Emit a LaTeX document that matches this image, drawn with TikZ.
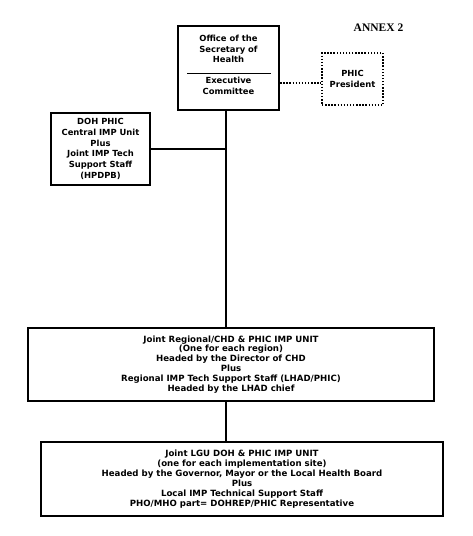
\documentclass[tikz,border=0pt]{standalone}
\usepackage{fontspec}
\setmainfont{DejaVu Sans}
\newfontfamily\annexfont{Liberation Serif}
\begin{document}
\begin{tikzpicture}[x=1pt,y=1pt,yscale=-1,xscale=1,
    unitbox/.style={draw, line width=2.2pt, inner sep=0pt, align=center,
        font=\fontsize{8.6}{9.9}\selectfont\bfseries},
    unittext/.style={inner sep=0pt, align=center,
        font=\fontsize{8.4}{10.6}\selectfont\bfseries},
    link/.style={line width=2pt},
    dotlink/.style={line width=1.8pt, dash pattern=on 1.4pt off 1.7pt}]
    %set diagram frame
    \useasboundingbox (0,0) rectangle (473,536);

    % Title Node
    \node (annex) at (378.5,28) [inner sep=0pt, font=\annexfont\fontsize{11.5}{12}\selectfont\bfseries] {ANNEX 2};

    %Shape: Rectangle [office of the secretary]
    \node (osec) at (228.5,68) [unitbox, minimum width=101, minimum height=84] {};
    % Text Node
    \node (osecup) at (228.5,49) [unittext] {Office of the\\Secretary of\\Health};
    %Straight Lines [divider]
    \draw [line width=1pt] (187,73) -- (271,73);
    % Text Node
    \node (oseclow) at (228.5,86) [unittext] {Executive\\Committee};

    %Shape: Rectangle [phic president]
    \node (pres) at (352.5,79) [unitbox, dotlink, font=\fontsize{8.4}{10.6}\selectfont\bfseries, minimum width=61, minimum height=52] {PHIC\\President};

    %Shape: Rectangle [central unit]
    \node (doh) at (100.5,149) [unitbox, font=\fontsize{8.4}{10.7}\selectfont\bfseries, minimum width=99, minimum height=72] {DOH PHIC\\Central IMP Unit\\Plus\\Joint IMP Tech\\Support Staff\\(HPDPB)};

    %Shape: Rectangle [regional unit]
    \node (region) at (231,364.5) [unitbox, minimum width=406, minimum height=73] {Joint Regional/CHD \& PHIC IMP UNIT\\(One for each region)\\Headed by the Director of CHD\\Plus\\Regional IMP Tech Support Staff (LHAD/PHIC)\\Headed by the LHAD chief};

    %Shape: Rectangle [local unit]
    \node (lgu) at (242,479) [unitbox, minimum width=402, minimum height=74] {Joint LGU DOH \& PHIC IMP UNIT\\(one for each implementation site)\\Headed by the Governor, Mayor or the Local Health Board\\Plus\\Local IMP Technical Support Staff\\PHO/MHO part= DOHREP/PHIC Representative};

    % Guide coordinates
    \coordinate (spine) at (226,0);
    \coordinate (dotlvl) at (0,83);

    %Straight Lines [spine]
    \draw [link] (osec.south -| spine) -- (region.north -| spine);
    \draw [link] (region.south -| spine) -- (lgu.north -| spine);
    %Straight Lines [central unit branch]
    \draw [link] (doh.east) -- (doh.east -| spine);
    %Dotted Lines [president]
    \draw [dotlink] (osec.east |- dotlvl) -- (pres.west |- dotlvl);

\end{tikzpicture}
\end{document}
